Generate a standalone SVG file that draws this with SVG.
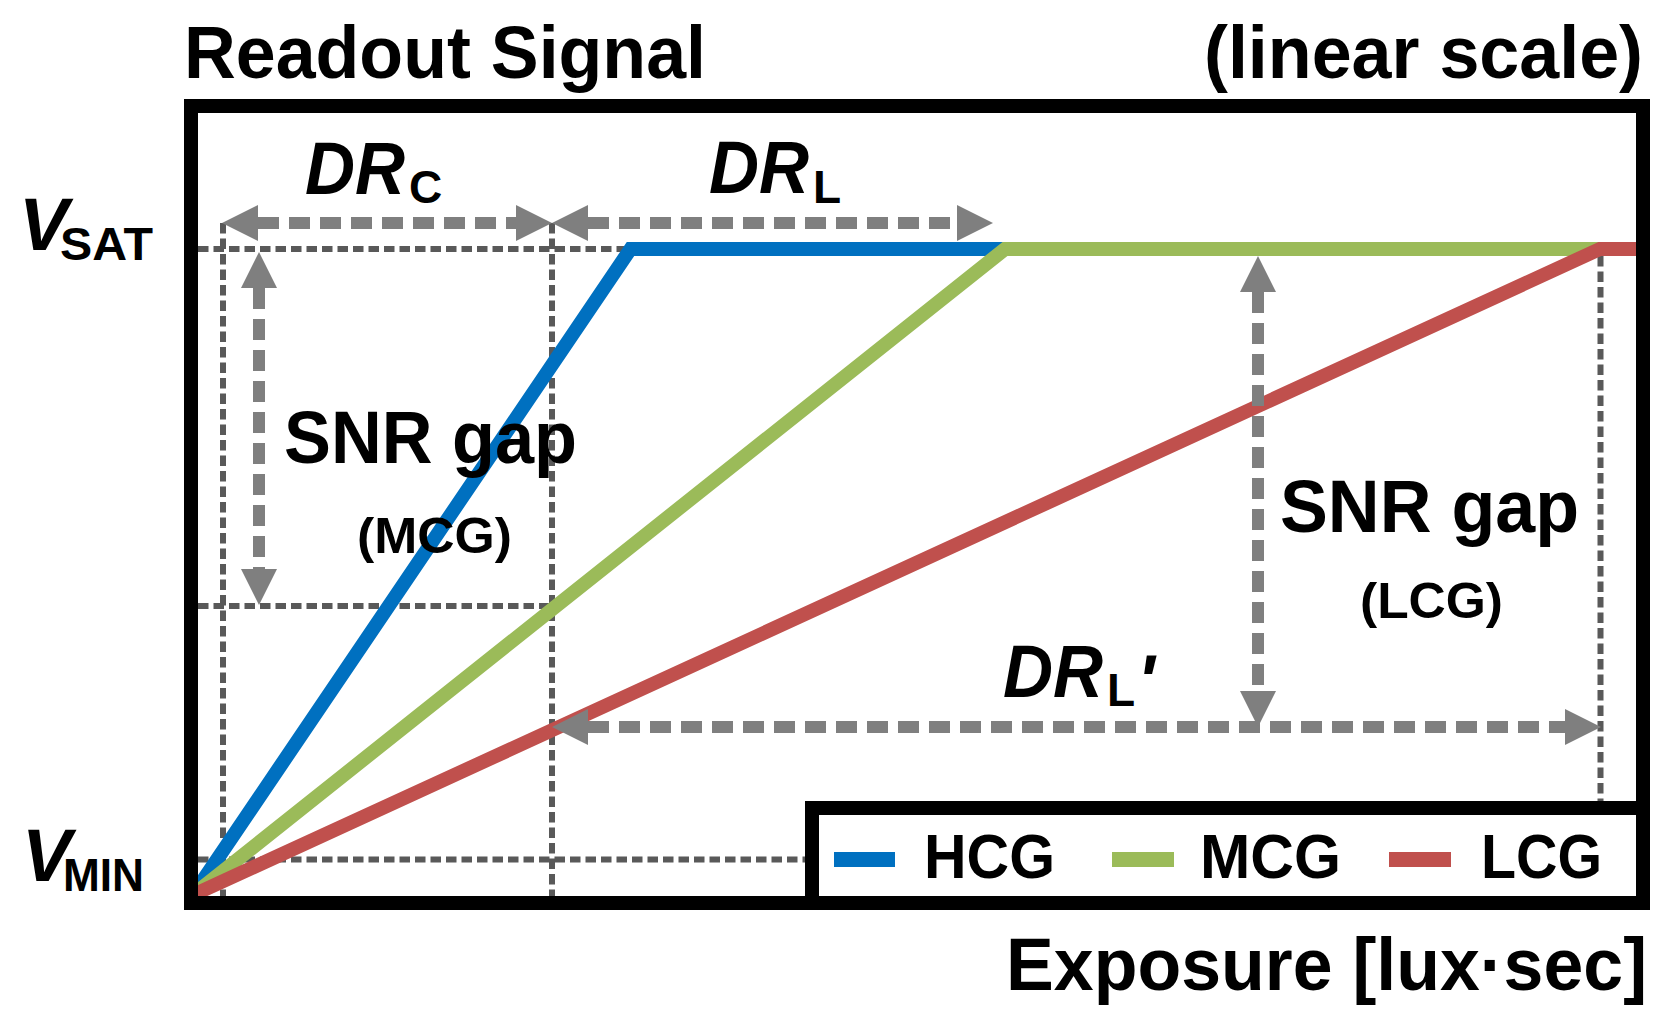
<svg xmlns="http://www.w3.org/2000/svg" width="1678" height="1028" viewBox="0 0 1678 1028">
<style>
text{font-family:"Liberation Sans",Arial,sans-serif;font-weight:bold;fill:#000}
.big{font-size:74px}
.sub{font-size:46px}
.it{font-style:italic}
.mid{font-size:50px}
.leg{font-size:63px}
.curve{fill:none;stroke-width:14;stroke-linejoin:miter}
.dot{fill:none;stroke:#595959;stroke-width:6;stroke-dasharray:10.5 5}
.arr{fill:none;stroke:#7f7f7f;stroke-width:12;stroke-dasharray:21 10}
</style>
<defs>
<marker id="head" viewBox="0 0 36 36" refX="0" refY="18" markerWidth="36" markerHeight="36" markerUnits="userSpaceOnUse" orient="auto-start-reverse">
<path d="M0,0 L36,18 L0,36 Z" fill="#7f7f7f"/>
</marker>
</defs>
<rect width="1678" height="1028" fill="#fff"/>

<g id="titles">
<text class="big" x="184" y="78" textLength="522" lengthAdjust="spacingAndGlyphs">Readout Signal</text>
<text class="big" x="1204" y="78" textLength="439" lengthAdjust="spacingAndGlyphs">(linear scale)</text>
<text class="big" x="1006" y="990" font-size="73" textLength="641" lengthAdjust="spacingAndGlyphs">Exposure [lux·sec]</text>
</g>

<g id="axis-labels">
<text class="big it" x="19" y="250">V</text>
<text class="sub" x="60" y="260" textLength="93" lengthAdjust="spacingAndGlyphs">SAT</text>
<text class="big it" x="22" y="881">V</text>
<text class="sub" x="63" y="891" textLength="81" lengthAdjust="spacingAndGlyphs">MIN</text>
</g>

<g id="connectors">
<path class="dot" d="M198,249 H627"/>
<path class="dot" d="M223,223 V896"/>
<path class="dot" d="M552,223 V896"/>
<path class="dot" d="M198,606 H552"/>
<path class="dot" d="M198,859.5 H806"/>
<path class="dot" d="M1600.5,256 V801"/>

<path class="curve" stroke="#0070c0" d="M193,895 L630.5,249 L1010,249"/>
<path class="curve" stroke="#9bbb59" d="M193,895 L1005,249 L1605,249"/>
<path class="curve" stroke="#c0504d" d="M193,895 L1600,249 L1637,249"/>

<path class="arr" d="M258,223 H516" marker-start="url(#head)" marker-end="url(#head)"/>
<path class="arr" d="M588,223 H957" marker-start="url(#head)" marker-end="url(#head)"/>
<path class="arr" d="M588,727 H1565" marker-start="url(#head)" marker-end="url(#head)"/>
<path class="arr" d="M259,288 V569" marker-start="url(#head)" marker-end="url(#head)"/>
<path class="arr" d="M1258,292 V691" marker-start="url(#head)" marker-end="url(#head)"/>
</g>

<g id="frame">
<rect x="191" y="106" width="1452" height="797" fill="none" stroke="#000" stroke-width="14"/>
</g>

<g id="dr-labels">
<text class="big it" x="305" y="194" font-size="73" textLength="100" lengthAdjust="spacingAndGlyphs">DR</text>
<text class="sub" x="409" y="203" font-size="44">C</text>
<text class="big it" x="709" y="193" font-size="73" textLength="100" lengthAdjust="spacingAndGlyphs">DR</text>
<text class="sub" x="813" y="203" font-size="44">L</text>
<text class="big it" x="1003" y="697" font-size="73" textLength="100" lengthAdjust="spacingAndGlyphs">DR</text>
<text class="sub" x="1107" y="706" font-size="44">L</text>
<text class="big it" x="1137" y="707" font-size="88">'</text>
</g>

<g id="snr-mcg">
<text class="big" x="284" y="463" textLength="293" lengthAdjust="spacingAndGlyphs">SNR gap</text>
<text class="mid" x="357" y="553" textLength="155" lengthAdjust="spacingAndGlyphs">(MCG)</text>
</g>

<g id="snr-lcg">
<text class="big" x="1280" y="532" textLength="299" lengthAdjust="spacingAndGlyphs">SNR gap</text>
<text class="mid" x="1360" y="618" textLength="143" lengthAdjust="spacingAndGlyphs">(LCG)</text>
</g>

<g id="legend">
<rect x="812" y="808" width="831" height="95" fill="#fff" stroke="#000" stroke-width="14"/>
<path d="M834,859.5 H895" stroke="#0070c0" stroke-width="15"/>
<text class="leg" x="924" y="878" textLength="131" lengthAdjust="spacingAndGlyphs">HCG</text>
<path d="M1112,859.5 H1174" stroke="#9bbb59" stroke-width="15"/>
<text class="leg" x="1200" y="878" textLength="141" lengthAdjust="spacingAndGlyphs">MCG</text>
<path d="M1389,859.5 H1451" stroke="#c0504d" stroke-width="15"/>
<text class="leg" x="1481" y="878" textLength="121" lengthAdjust="spacingAndGlyphs">LCG</text>
</g>
</svg>
